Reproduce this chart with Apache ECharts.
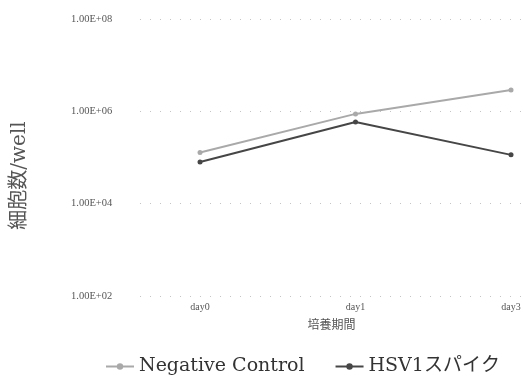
<!DOCTYPE html>
<html>
<head>
<meta charset="utf-8">
<script src="https://cdn.jsdelivr.net/npm/echarts@6/dist/echarts.min.js"></script>
<style>
  html, body { margin: 0; padding: 0; background: #fff; }
  #chart { width: 523px; height: 388px; }
</style>
</head>
<body>
<div id="chart"></div>
<script>
// 培養日数（カテゴリ）と位置
const days = ['day0', 'day1', 'day3']
const dayPos = [0, 1, 2]

// 細胞数/well
const negControl = [1.28e5, 8.8e5, 2.9e6]
const hsv1Spike = [8.0e4, 5.9e5, 1.14e5]

const seriesNames = ['Negative Control', 'HSV1スパイク']

const serif = "'DejaVu Serif', 'Noto Sans CJK JP', serif"
const tickFont = "'Liberation Serif', 'Noto Sans CJK JP', serif"

const chart = echarts.init(document.getElementById('chart'))

chart.setOption({
  animation: false,
  grid: { left: 140, right: 0, top: 19, bottom: 92, outerBoundsMode: 'none' },
  legend: {
    left: 100,
    top: 352,
    itemWidth: 28,
    itemHeight: 8,
    itemGap: 30,
    textStyle: { fontFamily: serif, fontSize: 19, color: '#333' },
    data: seriesNames
  },
  xAxis: {
    type: 'value',
    min: -0.386,
    max: 2.077,
    name: '培養期間',
    nameLocation: 'middle',
    nameGap: 22,
    nameTextStyle: { fontFamily: "'Noto Sans CJK JP', sans-serif", fontSize: 12, color: '#555' },
    axisLine: { show: false },
    axisTick: { show: false },
    splitLine: { show: false },
    axisLabel: {
      customValues: dayPos,
      margin: 6,
      fontFamily: tickFont,
      fontSize: 10,
      color: '#555',
      formatter: v => days[Math.round(v)]
    }
  },
  yAxis: {
    type: 'log',
    logBase: 100,
    min: 1e2,
    max: 1e8,
    name: '細胞数/well',
    nameLocation: 'middle',
    nameRotate: 90,
    nameGap: 110,
    nameTextStyle: {
      fontFamily: serif, fontSize: 20, color: '#555',
      padding: [0, 36, 0, 0]
    },
    axisLine: { show: false },
    axisTick: { show: false },
    axisLabel: {
      align: 'left',
      margin: 69,
      fontFamily: tickFont,
      fontSize: 10.5,
      color: '#555',
      formatter: v => {
        const e = Math.round(Math.log10(v))
        return '1.00E+' + String(e).padStart(2, '0')
      }
    },
    splitLine: { lineStyle: { color: '#c4c4c4', width: 1, type: [1, 9] } }
  },
  series: [
    {
      name: seriesNames[0],
      type: 'line',
      symbol: 'circle',
      symbolSize: 5,
      color: '#a9a9a9',
      lineStyle: { width: 2 },
      data: negControl.map((v, i) => [dayPos[i], v])
    },
    {
      name: seriesNames[1],
      type: 'line',
      symbol: 'circle',
      symbolSize: 5,
      color: '#464646',
      lineStyle: { width: 2 },
      data: hsv1Spike.map((v, i) => [dayPos[i], v])
    }
  ]
})
</script>
</body>
</html>
